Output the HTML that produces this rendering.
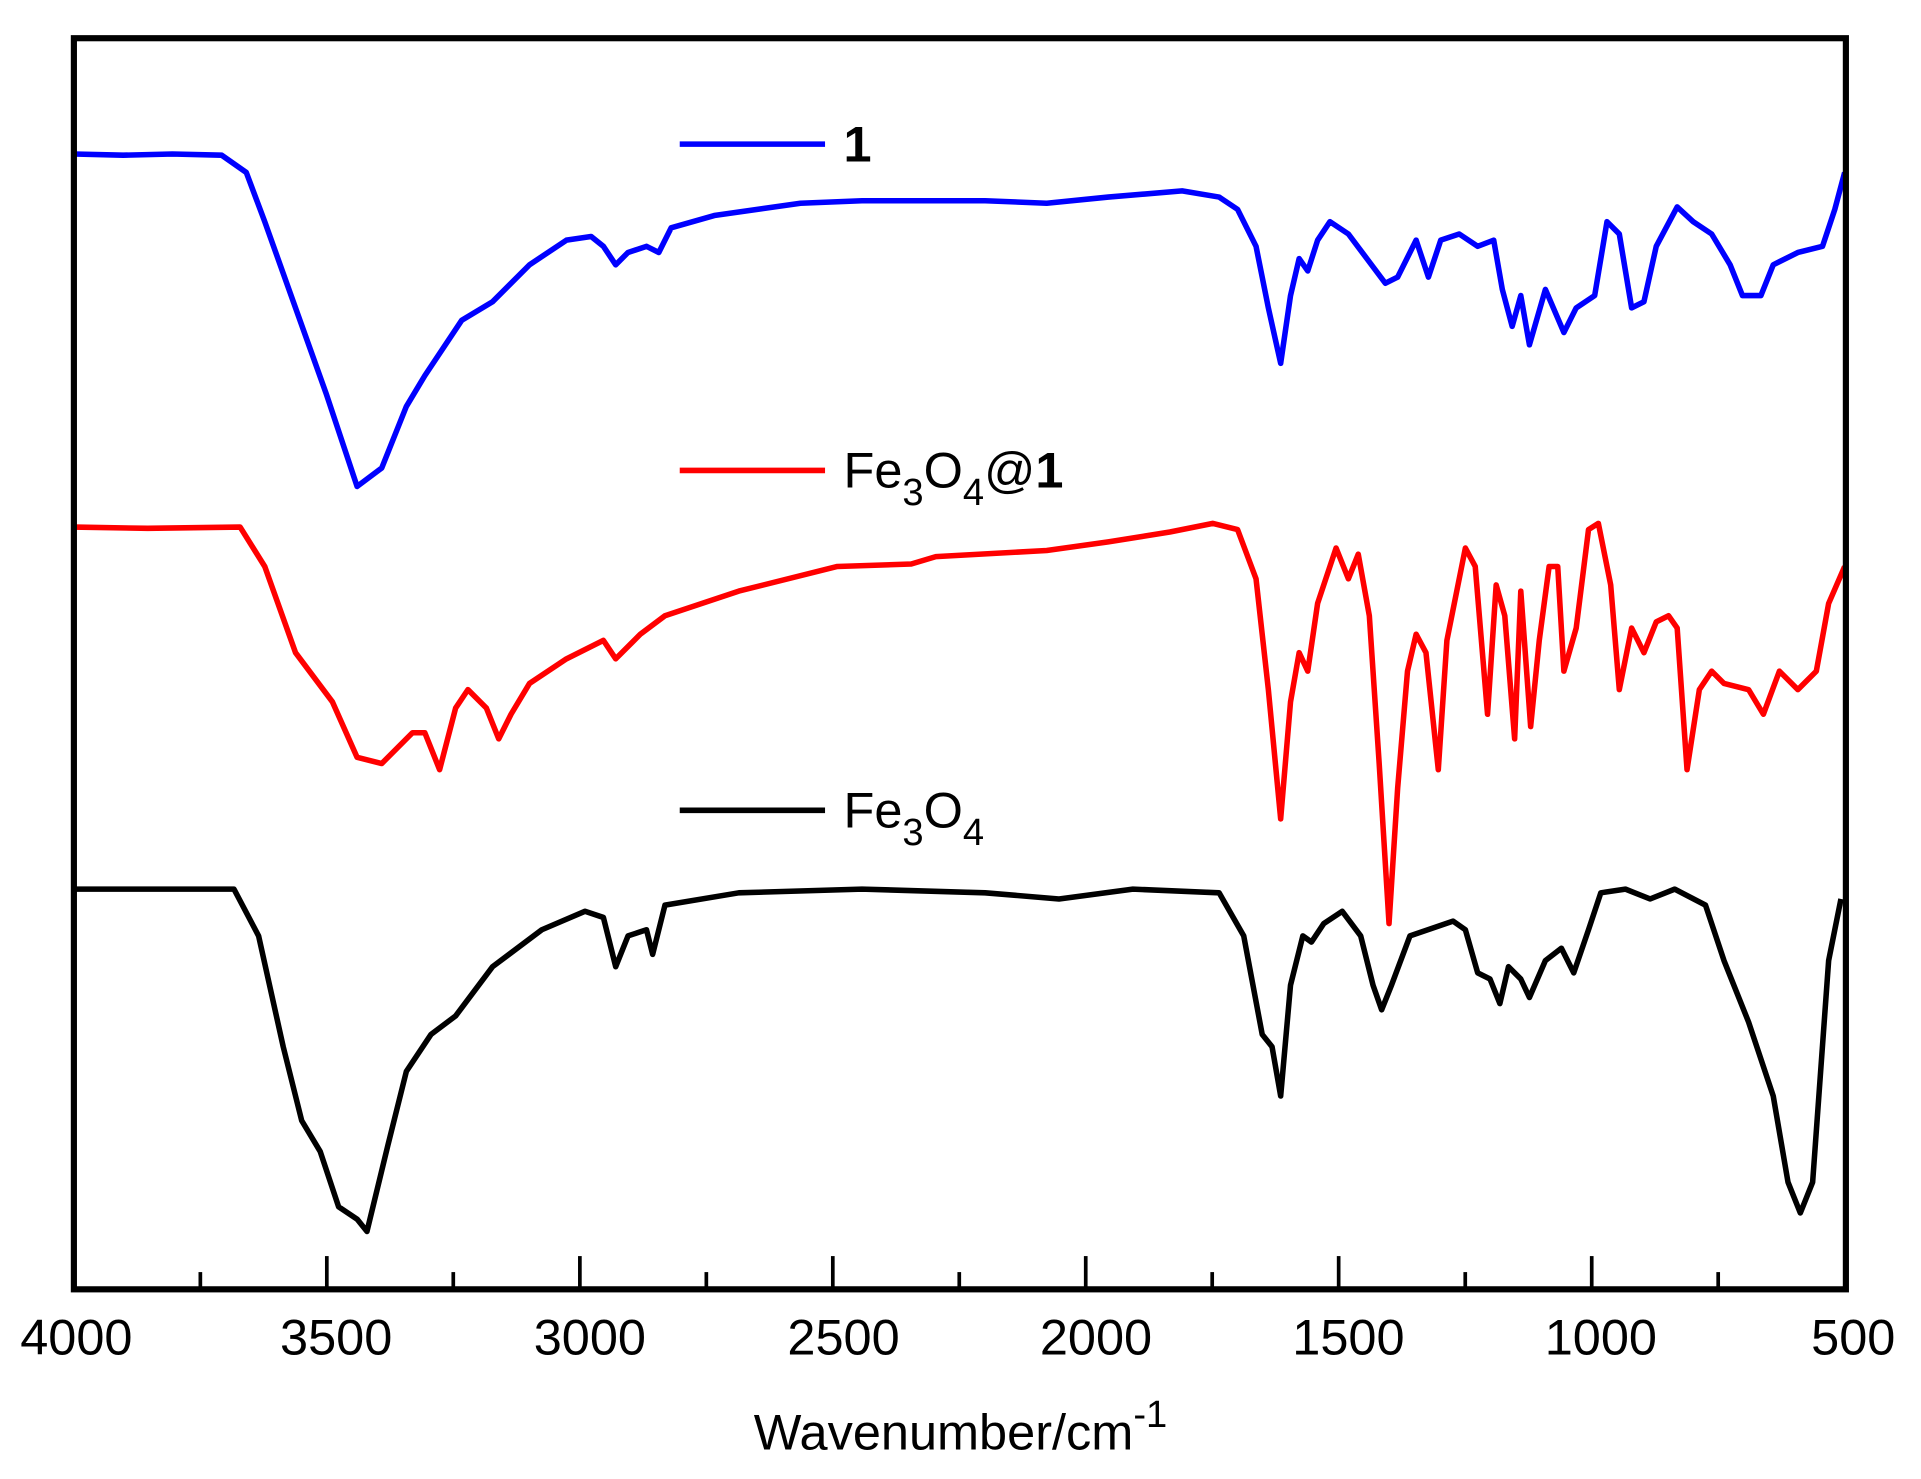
<!DOCTYPE html>
<html><head><meta charset="utf-8"><style>html,body{margin:0;padding:0;background:#fff}svg{display:block}</style></head>
<body>
<svg width="1921" height="1479" viewBox="0 0 1560 1201" xmlns="http://www.w3.org/2000/svg" font-family="Liberation Sans, sans-serif">
<rect width="1560" height="1201" fill="#fff"/>
<g fill="none" stroke-width="4.5" stroke-linejoin="round">
<polyline stroke="#0000ff" points="60,125 100,126 140,125 180,126 200,140 215,180 240,250 265,320 290,395 310,380 330,330 345,305 375,260 400,245 430,215 460,195 480,192 490,200 500,215 510,205 525,200 535,205 545,185 580,175 650,165 700,163 800,163 850,165 900,160 960,155 990,160 1005,170 1020,200 1030,250 1040,295 1048,240 1055,210 1062,220 1070,195 1080,180 1095,190 1110,210 1125,230 1135,225 1150,195 1160,225 1170,195 1185,190 1200,200 1213,195 1220,235 1228,265 1235,240 1242,280 1255,235 1270,270 1280,250 1295,240 1305,180 1315,190 1325,250 1335,245 1345,200 1362,168 1375,180 1390,190 1405,215 1415,240 1430,240 1440,215 1460,205 1480,200 1490,170 1498,140"/>
<polyline stroke="#ff0000" points="60,428 120,429 195,428 215,460 240,530 270,570 290,615 310,620 335,595 345,595 357,625 370,575 380,560 395,575 405,600 415,580 430,555 460,535 490,520 500,535 520,515 540,500 600,480 680,460 740,458 760,452 850,447 900,440 950,432 985,425 1005,430 1020,470 1030,560 1040,665 1048,570 1055,530 1062,545 1070,490 1085,445 1095,470 1103,450 1112,500 1120,620 1128,750 1135,640 1143,545 1150,515 1158,530 1168,625 1175,520 1190,445 1198,460 1208,580 1215,475 1222,500 1230,600 1235,480 1243,590 1250,520 1258,460 1265,460 1270,545 1280,510 1290,430 1298,425 1308,475 1315,560 1325,510 1335,530 1345,505 1355,500 1362,510 1370,625 1380,560 1390,545 1400,555 1420,560 1432,580 1445,545 1460,560 1475,545 1485,490 1498,460"/>
<polyline stroke="#000" points="60,722 120,722 190,722 210,760 230,850 245,910 260,935 275,980 290,990 298,1000 315,930 330,870 350,840 370,825 400,785 440,755 475,740 490,745 500,785 510,760 525,755 530,775 540,735 600,725 700,722 800,725 860,730 920,722 990,725 1010,760 1025,840 1033,850 1040,890 1048,800 1058,760 1065,765 1075,750 1090,740 1105,760 1115,800 1122,820 1130,800 1145,760 1180,748 1190,755 1200,790 1210,795 1218,815 1225,785 1235,795 1242,810 1255,780 1268,770 1278,790 1290,755 1300,725 1320,722 1340,730 1360,722 1385,735 1400,780 1420,830 1440,890 1452,960 1462,985 1472,960 1485,780 1495,730"/>
<line x1="552" y1="117" x2="670" y2="117" stroke="#0000ff"/>
<line x1="552" y1="382" x2="670" y2="382" stroke="#ff0000"/>
<line x1="552" y1="658" x2="670" y2="658" stroke="#000"/>
</g>
<g font-size="41" fill="#000">
<text x="685" y="131" font-weight="bold">1</text>
<text x="685" y="396">Fe<tspan font-size="31" dy="14">3</tspan><tspan dy="-14">O</tspan><tspan font-size="31" dy="14">4</tspan><tspan dy="-14">@</tspan><tspan font-weight="bold">1</tspan></text>
<text x="685" y="672">Fe<tspan font-size="31" dy="14">3</tspan><tspan dy="-14">O</tspan><tspan font-size="31" dy="14">4</tspan></text>
</g>
<rect x="60" y="31" width="1439" height="1016" fill="none" stroke="#000" stroke-width="5"/>
<g stroke="#000" stroke-width="3">
<line x1="60" y1="1047" x2="60" y2="1020"/><line x1="162.7" y1="1047" x2="162.7" y2="1033"/>
<line x1="265.4" y1="1047" x2="265.4" y2="1020"/><line x1="368.1" y1="1047" x2="368.1" y2="1033"/>
<line x1="470.9" y1="1047" x2="470.9" y2="1020"/><line x1="573.6" y1="1047" x2="573.6" y2="1033"/>
<line x1="676.3" y1="1047" x2="676.3" y2="1020"/><line x1="779" y1="1047" x2="779" y2="1033"/>
<line x1="881.7" y1="1047" x2="881.7" y2="1020"/><line x1="984.4" y1="1047" x2="984.4" y2="1033"/>
<line x1="1087.1" y1="1047" x2="1087.1" y2="1020"/><line x1="1189.9" y1="1047" x2="1189.9" y2="1033"/>
<line x1="1292.6" y1="1047" x2="1292.6" y2="1020"/><line x1="1395.3" y1="1047" x2="1395.3" y2="1033"/>
</g>
<g font-size="41" fill="#000" text-anchor="middle">
<text x="62" y="1100">4000</text><text x="273" y="1100">3500</text><text x="479" y="1100">3000</text>
<text x="685" y="1100">2500</text><text x="890" y="1100">2000</text><text x="1095" y="1100">1500</text>
<text x="1300" y="1100">1000</text><text x="1505" y="1100">500</text>
<text x="780" y="1177">Wavenumber/cm<tspan font-size="31" dy="-18">-1</tspan></text>
</g>
</svg>
</body></html>
